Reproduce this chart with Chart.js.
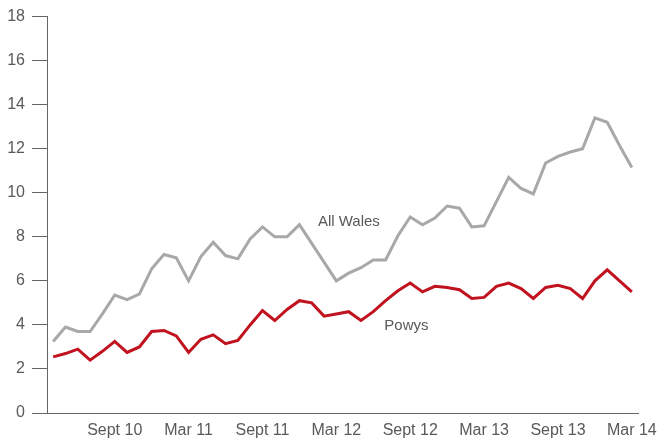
<!DOCTYPE html>
<html>
<head>
<meta charset="utf-8">
<title>All Wales and Powys</title>
<script src="https://cdn.jsdelivr.net/npm/chart.js@4.4.1/dist/chart.umd.min.js"></script>
<style>
    html, body { margin: 0; padding: 0; background: #fff; }
    #wrap { width: 667px; height: 444px; position: relative; }
</style>
</head>
<body>
<div id="wrap"><canvas id="chart"></canvas></div>
<script>
// Monthly values, Apr 10 to Mar 14

const months = [
    'Apr 10', 'May 10', 'Jun 10', 'Jul 10', 'Aug 10', 'Sept 10', 'Oct 10', 'Nov 10', 'Dec 10', 'Jan 11', 'Feb 11', 'Mar 11',
    'Apr 11', 'May 11', 'Jun 11', 'Jul 11', 'Aug 11', 'Sept 11', 'Oct 11', 'Nov 11', 'Dec 11', 'Jan 12', 'Feb 12', 'Mar 12',
    'Apr 12', 'May 12', 'Jun 12', 'Jul 12', 'Aug 12', 'Sept 12', 'Oct 12', 'Nov 12', 'Dec 12', 'Jan 13', 'Feb 13', 'Mar 13',
    'Apr 13', 'May 13', 'Jun 13', 'Jul 13', 'Aug 13', 'Sept 13', 'Oct 13', 'Nov 13', 'Dec 13', 'Jan 14', 'Feb 14', 'Mar 14',
];

const tickLabels = ['Sept 10', 'Mar 11', 'Sept 11', 'Mar 12', 'Sept 12', 'Mar 13', 'Sept 13', 'Mar 14'];

const allWales = [
    3.25, 3.9, 3.7, 3.7, 4.5, 5.35, 5.15, 5.4, 6.55, 7.2, 7.05, 6.0,
    7.1, 7.75, 7.15, 7.0, 7.9, 8.45, 8.0, 8.0, 8.55, 7.7, 6.85, 6.0,
    6.35, 6.6, 6.95, 6.95, 8.05, 8.9, 8.55, 8.85, 9.4, 9.3, 8.45, 8.5,
    9.6, 10.7, 10.2, 9.95, 11.35, 11.65, 11.85, 12.0, 13.4, 13.2, 12.15, 11.15,
];

const powys = [
    2.55, 2.7, 2.9, 2.4, 2.8, 3.25, 2.75, 3.0, 3.7, 3.75, 3.5, 2.75,
    3.35, 3.55, 3.15, 3.3, 4.0, 4.65, 4.2, 4.7, 5.1, 5.0, 4.4, 4.5,
    4.6, 4.2, 4.6, 5.1, 5.55, 5.9, 5.5, 5.75, 5.7, 5.6, 5.2, 5.25,
    5.75, 5.9, 5.65, 5.2, 5.7, 5.8, 5.65, 5.2, 6.0, 6.5, 6.0, 5.5,
];

// Series name labels, anchored to the data scales
const seriesLabels = [
    { text: 'All Wales', index: 21.5, value: 8.66 },
    { text: 'Powys', index: 26.9, value: 3.97 },
];

const textColor = '#595959';
const axisColor = '#666666';

Chart.defaults.font.family = '"Liberation Sans", Arial, sans-serif';
Chart.defaults.color = textColor;

const seriesLabelPlugin = {
    id: 'seriesLabels',
    afterDatasetsDraw(chart) {
        const { ctx, scales } = chart;
        const xs = scales.x;
        const step = xs.getPixelForValue(1) - xs.getPixelForValue(0);
        ctx.save();
        ctx.font = '15px "Liberation Sans", Arial, sans-serif';
        ctx.fillStyle = textColor;
        ctx.textAlign = 'left';
        ctx.textBaseline = 'middle';
        seriesLabels.forEach(l => {
            const x = xs.getPixelForValue(0) + l.index * step;
            const y = scales.y.getPixelForValue(l.value);
            ctx.fillText(l.text, x, y);
        });
        ctx.restore();
    },
};

new Chart(document.getElementById('chart'), {
    type: 'line',
    data: {
        labels: months,
        datasets: [
            {
                label: 'All Wales',
                data: allWales,
                borderColor: '#a8a8aa',
                borderWidth: 3,
                pointRadius: 0,
                tension: 0,
            },
            {
                label: 'Powys',
                data: powys,
                borderColor: '#c1121f',
                borderWidth: 3,
                pointRadius: 0,
                tension: 0,
            },
        ],
    },
    options: {
        responsive: true,
        maintainAspectRatio: false,
        animation: false,
        layout: { padding: { top: 14, right: 29, left: 0, bottom: 0 } },
        plugins: {
            legend: { display: false },
            tooltip: { enabled: false },
        },
        scales: {
            x: {
                offset: true,
                grid: { display: false, drawTicks: false },
                border: { display: true, color: axisColor, width: 1 },
                ticks: {
                    autoSkip: false,
                    maxRotation: 0,
                    padding: 8,
                    color: textColor,
                    font: { size: 16 },
                    callback(value) {
                        const name = months[value];
                        return tickLabels.includes(name) ? name : '';
                    },
                },
                afterFit(scale) { scale.height = 31; },
            },
            y: {
                min: 0,
                max: 18,
                grid: { drawOnChartArea: false, drawTicks: true, tickLength: 15, color: axisColor },
                border: { display: true, color: axisColor, width: 1 },
                ticks: {
                    stepSize: 2,
                    padding: 7,
                    color: textColor,
                    font: { size: 16 },
                },
                afterFit(scale) { scale.width = 47; },
            },
        },
    },
    plugins: [seriesLabelPlugin],
});
</script>
</body>
</html>
